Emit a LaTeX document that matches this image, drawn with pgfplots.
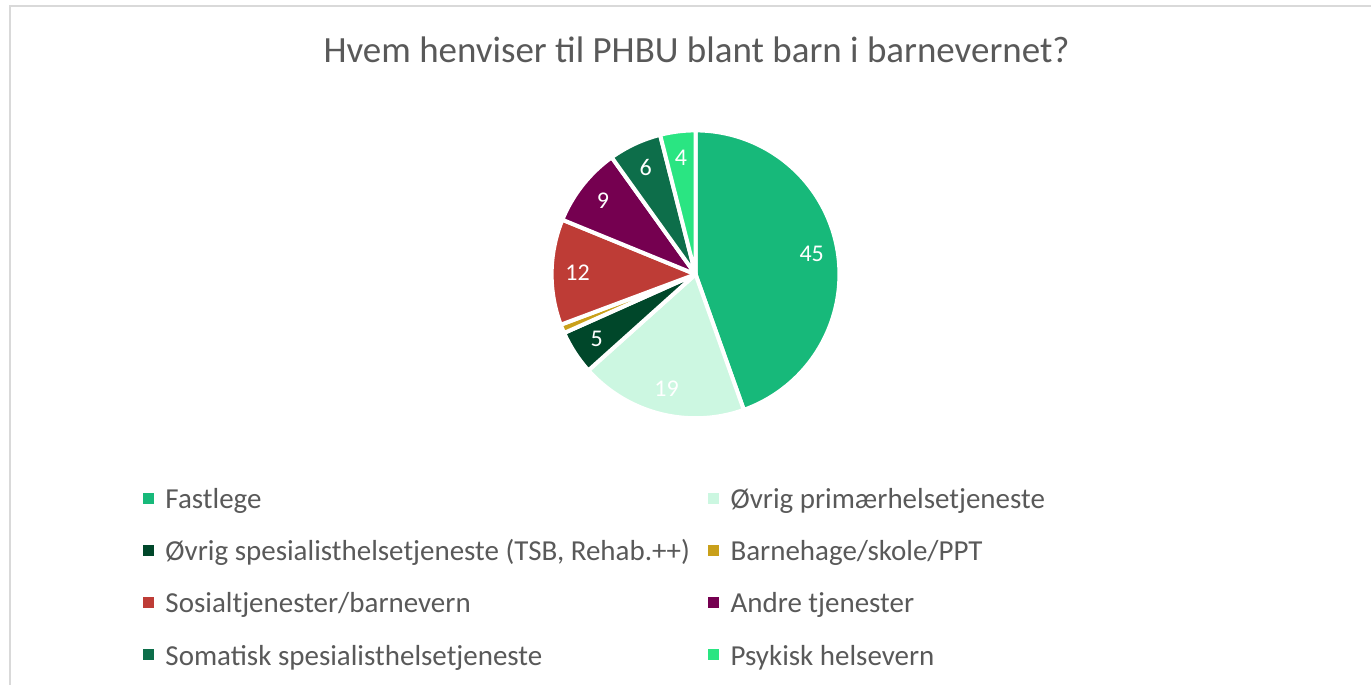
\documentclass[border=0pt]{standalone}
\usepackage{pgfplots}
\pgfplotsset{compat=1.18}
\usepackage{fontspec}
\setmainfont{Carlito}
\definecolor{cFast}{HTML}{17B97A}
\definecolor{cPrim}{HTML}{CCF7E1}
\definecolor{cSpes}{HTML}{00472A}
\definecolor{cBarn}{HTML}{C9A01A}
\definecolor{cSos}{HTML}{BE3C36}
\definecolor{cAndre}{HTML}{750050}
\definecolor{cSom}{HTML}{0D6E4A}
\definecolor{cPsyk}{HTML}{2AE582}
\definecolor{txt}{HTML}{595959}
\definecolor{frame}{HTML}{D9D9D9}

\def\total{101}\def\cx{696}\def\cy{410.5}\def\R{144}\def\lr{118}
\gdef\cum{0}
\newcommand{\pieslice}[4]{% value, color, label, legend text
  \pgfmathsetmacro{\aS}{90-(\cum/\total)*360}%
  \pgfmathsetmacro{\newcum}{\cum+#1}%
  \xdef\cum{\newcum}%
  \pgfmathsetmacro{\aE}{90-(\cum/\total)*360}%
  \pgfmathsetmacro{\aM}{(\aS+\aE)/2}%
  \pgfmathsetmacro{\lx}{\cx+\lr*cos(\aM)}%
  \pgfmathsetmacro{\ly}{\cy+\lr*sin(\aM)}%
  \edef\temp{\noexpand\addplot[fill=#2, draw=white, line width=2pt, line join=round, domain=\aE:\aS, samples=90] ({\cx+\R*cos(x)},{\cy+\R*sin(x)}) -- (axis cs:\cx,\cy) -- cycle;
   \noexpand\addlegendentry{#4}
   \noexpand\node[text=white, font=\noexpand\fontsize{12}{14}\noexpand\selectfont] at (axis cs:\lx,\ly) {#3};}%
  \temp
}

\begin{document}
\begin{tikzpicture}
\begin{axis}[
  scale only axis, width=686pt, height=342.5pt,
  xmin=0, xmax=1372, ymin=0, ymax=685,
  hide axis, clip=false,
  legend columns=2,
  legend cell align=left,
  legend image code/.code={\path[#1, draw=none, line width=0pt] (0pt,-0.8pt) rectangle (5.5pt,4.7pt);},
  legend style={at={(axis cs:143,196)}, anchor=north west, draw=none, fill=none,
    inner sep=0pt, outer sep=0pt,
    font=\fontsize{14.5}{17}\selectfont, text=txt, row sep=12.6pt,
    nodes={inner xsep=0pt, inner ysep=0pt, text height=10pt, text depth=3.5pt},
    /tikz/every odd column/.append style={column sep=5.8pt},
    /tikz/every even column/.append style={column sep=9pt}},
]
\path (axis cs:0,0) (axis cs:1372,685);
\draw[frame, line width=0.9pt] (axis cs:10,0) -- (axis cs:10,679) -- (axis cs:1372,679);
\node[text=txt, font=\fontsize{18.5}{22}\selectfont] at (axis cs:697,635) {Hvem henviser til PHBU blant barn i barnevernet?};
\pieslice{45}{cFast}{45}{Fastlege}
\pieslice{19}{cPrim}{19}{Øvrig primærhelsetjeneste}
\pieslice{5}{cSpes}{5}{Øvrig spesialisthelsetjeneste (TSB, Rehab.++)}
\pieslice{1}{cBarn}{}{Barnehage/skole/PPT}
\pieslice{12}{cSos}{12}{Sosialtjenester/barnevern}
\pieslice{9}{cAndre}{9}{Andre tjenester}
\pieslice{6}{cSom}{6}{Somatisk spesialisthelsetjeneste}
\pieslice{4}{cPsyk}{4}{Psykisk helsevern}
\end{axis}
\end{tikzpicture}
\end{document}
